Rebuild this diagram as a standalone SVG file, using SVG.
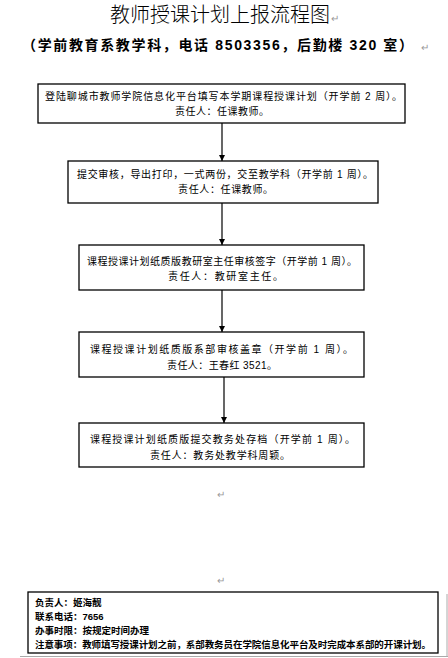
<svg xmlns="http://www.w3.org/2000/svg" width="448" height="658" viewBox="0 0 448 658">
<defs>
<marker id="ah" viewBox="0 0 10 10" refX="10" refY="5" markerWidth="6" markerHeight="6" orient="auto" markerUnits="userSpaceOnUse">
<path d="M0,0 L10,5 L0,10 Z" fill="#000"/>
</marker>
</defs>
<style>
text{font-family:"Liberation Sans","Noto Sans CJK SC",sans-serif;fill:#000}
.t{font-size:20px;font-weight:300}
.s{font-size:14px;font-weight:bold}
.b{font-size:10px}
.n{font-size:9.5px;font-weight:bold}
.m{font-size:10px;fill:#999}
.box{fill:#fff;stroke:#000;stroke-width:1.3}
.c{stroke:#000;stroke-width:1.2;fill:none}
</style>
<rect width="448" height="658" fill="#fff"/>
<text class="t" x="220" y="22" text-anchor="middle">教师授课计划上报流程图</text>
<text class="m" x="331" y="22">↵</text>
<text class="s" x="22" y="50" textLength="391" lengthAdjust="spacing">（学前教育系教学科，电话 8503356，后勤楼 320 室）</text>
<text class="m" x="421" y="51">↵</text>

<g id="connectors">
<line class="c" x1="222" y1="123" x2="222" y2="161" marker-end="url(#ah)"/>
<line class="c" x1="222" y1="203" x2="222" y2="245" marker-end="url(#ah)"/>
<line class="c" x1="222" y1="290" x2="222" y2="332" marker-end="url(#ah)"/>
<line class="c" x1="224" y1="377" x2="224" y2="423" marker-end="url(#ah)"/>
</g>

<g id="n1">
<rect class="box" x="38" y="84" width="367" height="39"/>
<text class="b" x="45" y="100" textLength="357" lengthAdjust="spacing">登陆聊城市教师学院信息化平台填写本学期课程授课计划（开学前 2 周）。</text>
<text class="b" x="175" y="115" textLength="94" lengthAdjust="spacing">责任人：任课教师。</text>
</g>
<g id="n2">
<rect class="box" x="68" y="161" width="310" height="42"/>
<text class="b" x="77" y="178" textLength="296" lengthAdjust="spacing">提交审核，导出打印，一式两份，交至教学科（开学前 1 周）。</text>
<text class="b" x="178" y="193" textLength="95" lengthAdjust="spacing">责任人：任课教师。</text>
</g>
<g id="n3">
<rect class="box" x="79" y="245" width="285" height="45"/>
<text class="b" x="87" y="265" textLength="270" lengthAdjust="spacing">课程授课计划纸质版教研室主任审核签字（开学前 1 周）。</text>
<text class="b" x="168" y="280" textLength="115" lengthAdjust="spacing">责任人：教研室主任。</text>
</g>
<g id="n4">
<rect class="box" x="79" y="332" width="285" height="45"/>
<text class="b" x="90" y="353" textLength="263" lengthAdjust="spacing">课程授课计划纸质版系部审核盖章（开学前 1 周）。</text>
<text class="b" x="167" y="369" textLength="110" lengthAdjust="spacing">责任人：王春红 3521。</text>
</g>
<g id="n5">
<rect class="box" x="79" y="423" width="285" height="44"/>
<text class="b" x="90" y="443" textLength="265" lengthAdjust="spacing">课程授课计划纸质版提交教务处存档（开学前 1 周）。</text>
<text class="b" x="150" y="459" textLength="140" lengthAdjust="spacing">责任人：教务处教学科周颖。</text>
</g>

<text class="m" x="217" y="498">↵</text>
<text class="m" x="217" y="584">↵</text>

<g id="info">
<line x1="447" y1="594" x2="447" y2="657" stroke="#aaa" stroke-width="1"/>
<line x1="20" y1="656.5" x2="448" y2="656.5" stroke="#aaa" stroke-width="1"/>
<rect class="box" x="28" y="592" width="410" height="61"/>
<text class="n" x="35" y="606">负责人：姬海靓</text>
<text class="n" x="35" y="620">联系电话：7656</text>
<text class="n" x="35" y="634">办事时限：按规定时间办理</text>
<text class="n" x="35" y="647.5" textLength="396" lengthAdjust="spacing">注意事项：教师填写授课计划之前，系部教务员在学院信息化平台及时完成本系部的开课计划。</text>
</g>
</svg>
